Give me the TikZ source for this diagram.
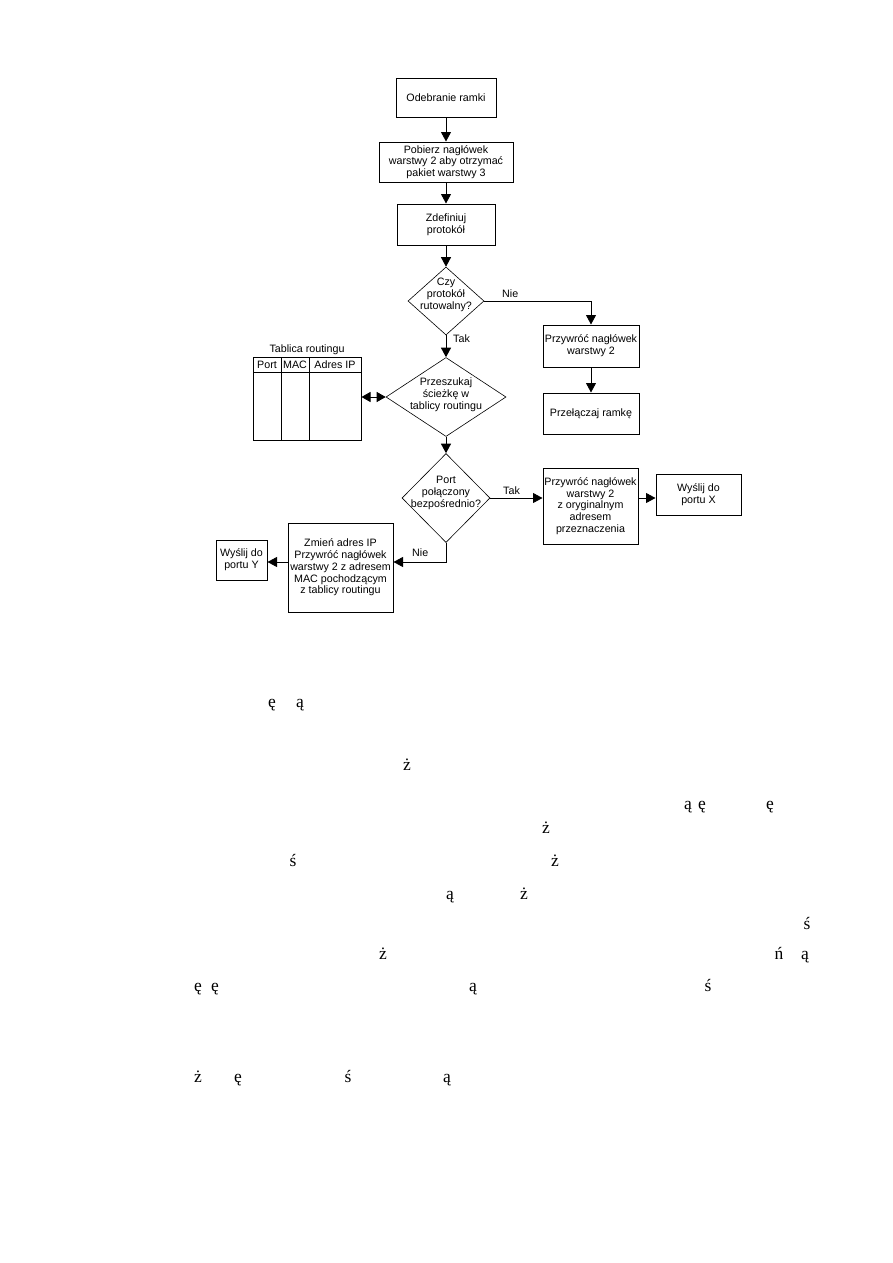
\documentclass[tikz,border=0pt]{standalone}
\usepackage{fontspec}
\setmainfont{Liberation Sans}
\newfontfamily\strayfont{Liberation Serif}
\usetikzlibrary{arrows.meta,shapes.geometric}
\begin{document}
\begin{tikzpicture}[x=1pt,y=-1pt,
  txt/.style={inner sep=0pt, align=center, font=\fontsize{10.7}{11.8}\selectfont},
  box/.style={txt, draw, line width=1pt},
  dia/.style={draw, diamond, inner sep=0pt, line width=0.6pt},
  arr/.style={-{Triangle[length=9.5pt,width=10pt]}, line width=0.9pt},
  darr/.style={{Triangle[length=9pt,width=10pt]}-{Triangle[length=9pt,width=10pt]}, line width=0.9pt},
  lbl/.style={inner sep=0pt, font=\fontsize{10.7}{11.8}\selectfont},
  stray/.style={inner sep=0pt, anchor=base, font=\strayfont\fontsize{17.5}{17.5}\selectfont}]
\useasboundingbox (0,0) rectangle (893,1263);
\fill[white] (0,0) rectangle (893,1263);

% boxes
\node[box, minimum width=100, minimum height=39] (b1) at (446,97.5) {Odebranie ramki};
\node[box, minimum width=134, minimum height=40] (b2) at (446,162) {Pobierz nagłówek\\warstwy 2 aby otrzymać\\pakiet warstwy 3};
\node[box, minimum width=98, minimum height=41] (b3) at (446,224.5) {Zdefiniuj\\protokół};

\node[dia, minimum width=76, minimum height=68] (d1) at (446,301) {};
\node[txt] (d1t) at (446,295) {Czy\\protokół\\rutowalny?};

\node[box, minimum width=96, minimum height=42] (b4) at (591,346) {Przywróć nagłówek\\warstwy 2};
\node[box, minimum width=96, minimum height=41] (b5) at (591,413.5) {Przełączaj ramkę};

\node[dia, minimum width=120, minimum height=79] (d2) at (446,397) {};
\node[txt] (d2t) at (446,395) {Przeszukaj\\ścieżkę w\\tablicy routingu};

% routing table
\node[lbl] (tt) at (307,350) {Tablica routingu};
\node[draw, line width=1pt, minimum width=108, minimum height=83, inner sep=0pt] (tab) at (307,398.5) {};
\draw[line width=1pt] (253,372) -- (361,372);
\draw[line width=1pt] (281,357) -- (281,440);
\draw[line width=1pt] (309,357) -- (309,440);
\node[lbl] (c1) at (267,365) {Port};
\node[lbl] (c2) at (295,365) {MAC};
\node[lbl] (c3) at (335,365) {Adres IP};

\node[dia, minimum width=88, minimum height=89] (d3) at (446,498) {};
\node[txt] (d3t) at (446,493) {Port\\połączony\\bezpośrednio?};

\node[box, minimum width=95, minimum height=76] (b6) at (590.5,506) {Przywróć nagłówek\\warstwy 2\\z oryginalnym\\adresem\\przeznaczenia};
\node[box, minimum width=85, minimum height=41] (b7) at (698.5,494.5) {Wyślij do\\portu X};

\node[box, minimum width=105, minimum height=89] (b8) at (340.5,567.5) {Zmień adres IP\\Przywróć nagłówek\\warstwy 2 z adresem\\MAC pochodzącym\\z tablicy routingu};
\node[box, minimum width=51, minimum height=40] (b9) at (241.5,560) {Wyślij do\\portu Y};

\coordinate (nieY) at (446,562);

% connectors
\draw[arr] (b1) -- (b2);
\draw[arr] (b2) -- (b3);
\draw[arr] (b3) -- (d1.north);
\draw[arr] (d1.east) -| (b4.north);
\node[lbl, anchor=south west] (nie1) at (502,298) {Nie};
\draw[arr] (d1.south) -- (d2.north);
\node[lbl, anchor=west] (tak1) at (453,339) {Tak};
\draw[arr] (b4) -- (b5);
\draw[darr] (d2.west -| tab.east) -- (d2.west);
\draw[arr] (d2.south) -- (d3.north);
\draw[arr] (d3.east) -- (d3.east -| b6.west);
\node[lbl, anchor=south west] (tak2) at (503,495) {Tak};
\draw[arr] (d3.east -| b6.east) -- (d3.east -| b7.west);
\draw[arr] (d3.south) |- (nieY -| b8.east);
\node[lbl, anchor=south west] (nie2) at (412,557) {Nie};
\draw[arr] (nieY -| b8.west) -- (nieY -| b9.east);

% stray glyphs
\node[stray] at (272,707) {ę};
\node[stray] at (300,707) {ą};
\node[stray] at (407,770) {ż};
\node[stray] at (688,809) {ą};
\node[stray] at (702,809) {ę};
\node[stray] at (770,809) {ę};
\node[stray] at (546,833) {ż};
\node[stray] at (293,866) {ś};
\node[stray] at (555,866) {ż};
\node[stray] at (450,899) {ą};
\node[stray] at (524,899) {ż};
\node[stray] at (807,929) {ś};
\node[stray] at (383,959) {ż};
\node[stray] at (779,959) {ń};
\node[stray] at (805,959) {ą};
\node[stray] at (198,991) {ę};
\node[stray] at (215,991) {ę};
\node[stray] at (473,991) {ą};
\node[stray] at (708,991) {ś};
\node[stray] at (198,1082) {ż};
\node[stray] at (238,1082) {ę};
\node[stray] at (348,1082) {ś};
\node[stray] at (447,1082) {ą};
\end{tikzpicture}
\end{document}
